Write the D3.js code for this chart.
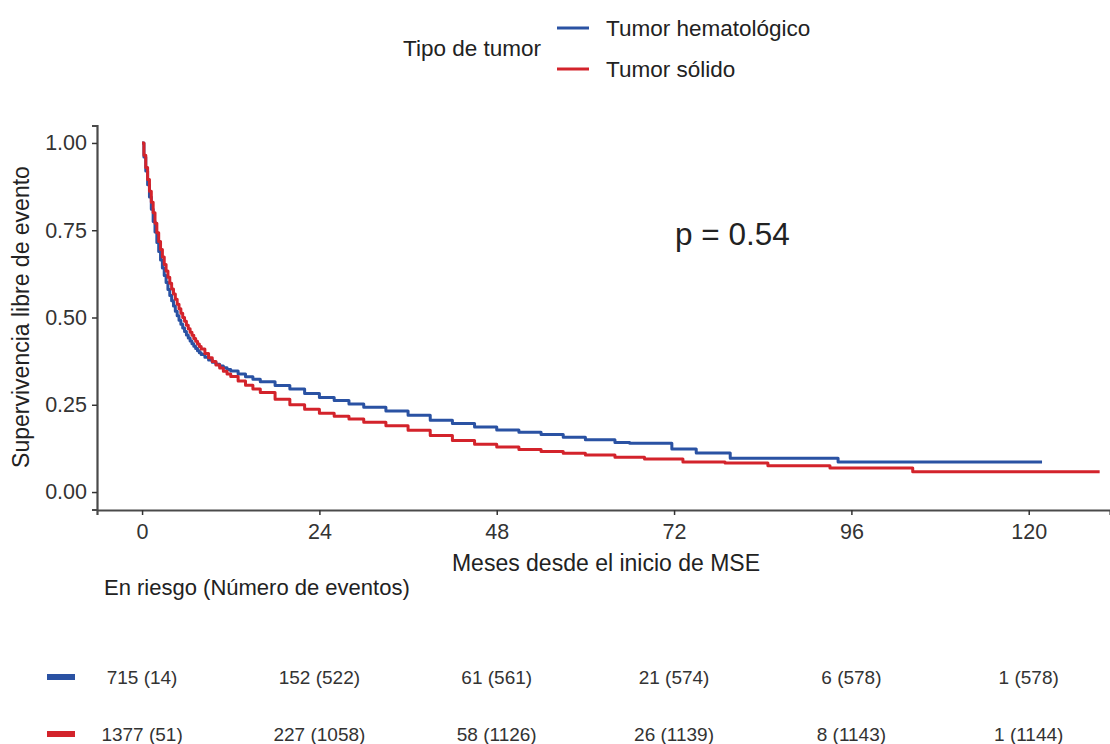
<!DOCTYPE html>
<html>
<head>
<meta charset="utf-8">
<script src="https://cdn.jsdelivr.net/npm/d3@7"></script>
<style>
  body { margin: 0; background: #fff; }
  svg { font-family: "Liberation Sans", Arial, sans-serif; display: block; }
</style>
</head>
<body>
<svg id="chart" width="1110" height="744"></svg>
<script>
// Kaplan-Meier curves (months, survival)
var hemaTimes = [0, 0.25, 0.5, 0.75, 1, 1.25, 1.5, 1.75, 2, 2.25, 2.5, 2.75, 3, 3.25, 3.5, 3.75, 4, 4.25, 4.5, 4.75, 5, 5.25, 5.5, 5.75, 6, 6.25, 6.5, 6.75, 7, 7.25, 7.5, 7.75, 8, 8.5, 9, 9.5, 10, 10.5, 11, 11.5, 12, 13, 14, 15, 16, 18, 20, 22, 24, 26, 28, 30, 33, 36, 39, 42, 45, 48, 51, 54, 57, 60, 64, 66, 71.7, 75, 79.6, 94.2, 121.8];
var hemaSurv  = [1, 0.96, 0.92, 0.88, 0.845, 0.81, 0.775, 0.745, 0.715, 0.689, 0.665, 0.642, 0.62, 0.6, 0.58, 0.563, 0.548, 0.533, 0.518, 0.505, 0.492, 0.481, 0.47, 0.46, 0.45, 0.441, 0.433, 0.425, 0.418, 0.411, 0.405, 0.399, 0.394, 0.386, 0.378, 0.372, 0.366, 0.361, 0.356, 0.351, 0.347, 0.338, 0.33, 0.323, 0.316, 0.305, 0.295, 0.282, 0.271, 0.262, 0.252, 0.243, 0.232, 0.22, 0.206, 0.196, 0.186, 0.178, 0.171, 0.165, 0.157, 0.15, 0.142, 0.14, 0.123, 0.112, 0.097, 0.086, 0.086];

var solTimes = [0, 0.25, 0.5, 0.75, 1, 1.25, 1.5, 1.75, 2, 2.25, 2.5, 2.75, 3, 3.25, 3.5, 3.75, 4, 4.25, 4.5, 4.75, 5, 5.25, 5.5, 5.75, 6, 6.25, 6.5, 6.75, 7, 7.25, 7.5, 7.75, 8, 8.5, 9, 9.5, 10, 10.5, 11, 11.5, 12, 13, 14, 15, 16, 18, 20, 22, 24, 26, 28, 30, 33, 36, 39, 42, 45, 48, 51, 54, 57, 60, 64, 68, 73.2, 78.9, 84.7, 93.1, 104.3, 129.6];
var solSurv  = [1, 0.965, 0.93, 0.895, 0.862, 0.83, 0.8, 0.77, 0.743, 0.718, 0.695, 0.673, 0.652, 0.633, 0.615, 0.598, 0.582, 0.567, 0.552, 0.538, 0.525, 0.512, 0.5, 0.489, 0.478, 0.468, 0.458, 0.449, 0.44, 0.432, 0.424, 0.417, 0.41, 0.397, 0.385, 0.374, 0.364, 0.355, 0.346, 0.338, 0.331, 0.318, 0.306, 0.295, 0.285, 0.266, 0.25, 0.237, 0.226, 0.217, 0.209, 0.2, 0.19, 0.177, 0.162, 0.148, 0.137, 0.129, 0.122, 0.116, 0.111, 0.106, 0.1, 0.095, 0.086, 0.083, 0.075, 0.069, 0.058, 0.058];

var groupNames = ["Tumor hematológico", "Tumor sólido"];
var groupColors = ["#2a52a3", "#d3232b"];

var xTicks = [0, 24, 48, 72, 96, 120];
var yTicks = [0, 0.25, 0.5, 0.75, 1];

// risk table
var riskTimes = [0, 24, 48, 72, 96, 120];
var hemaAtRisk = [715, 152, 61, 21, 6, 1];
var hemaEvents = [14, 522, 561, 574, 578, 578];
var solAtRisk  = [1377, 227, 58, 26, 8, 1];
var solEvents  = [51, 1058, 1126, 1139, 1143, 1144];

var pText = "p = 0.54";

var svg = d3.select("#chart");
svg.append("rect").attr("width", 1110).attr("height", 744).attr("fill", "#fff");

var x = d3.scaleLinear().domain([-6.1, 131]).range([97, 1110]);
var y = d3.scaleLinear().domain([-0.05, 1.05]).range([509.5, 125.5]);

// axes
var yAxis = svg.append("g")
    .attr("transform", "translate(97,0)")
    .call(d3.axisLeft(y).tickValues(yTicks).tickFormat(d3.format(".2f")).tickSize(5).tickPadding(5));
var xAxis = svg.append("g")
    .attr("transform", "translate(0,510)")
    .call(d3.axisBottom(x).tickValues(xTicks).tickSize(5).tickPadding(9));

[yAxis, xAxis].forEach(function (a) {
    a.select(".domain").attr("stroke", "#4a4a4a").attr("stroke-width", 2.2);
    a.selectAll(".tick line").attr("stroke", "#333").attr("stroke-width", 1.5);
    a.selectAll(".tick text").attr("fill", "#333").style("font-size", "21.5px")
        .style("font-family", "'Liberation Sans', Arial, sans-serif");
});

// curves
var line = d3.line()
    .x(function (d) { return x(d[0]); })
    .y(function (d) { return y(d[1]); })
    .curve(d3.curveStepAfter);

var series = [d3.zip(hemaTimes, hemaSurv), d3.zip(solTimes, solSurv)];
series.forEach(function (s, i) {
    svg.append("path")
        .datum(s)
        .attr("d", line)
        .attr("fill", "none")
        .attr("stroke", groupColors[i])
        .attr("stroke-width", 3)
        .attr("stroke-linejoin", "round");
});

// p value
svg.append("text")
    .attr("x", 675).attr("y", 245)
    .attr("fill", "#222")
    .style("font-size", "31.5px")
    .text(pText);

// axis titles
svg.append("text")
    .attr("x", 606).attr("y", 571)
    .attr("text-anchor", "middle")
    .attr("fill", "#222")
    .style("font-size", "23px")
    .text("Meses desde el inicio de MSE");

svg.append("text")
    .attr("transform", "translate(29,317) rotate(-90)")
    .attr("text-anchor", "middle")
    .attr("fill", "#222")
    .style("font-size", "23px")
    .text("Supervivencia libre de evento");

// legend
svg.append("text")
    .attr("x", 403).attr("y", 56)
    .attr("fill", "#222")
    .style("font-size", "22.5px")
    .text("Tipo de tumor");

var legendY = [28, 69];
groupNames.forEach(function (n, i) {
    svg.append("line")
        .attr("x1", 557).attr("x2", 589)
        .attr("y1", legendY[i]).attr("y2", legendY[i])
        .attr("stroke", groupColors[i]).attr("stroke-width", 3);
    svg.append("text")
        .attr("x", 606).attr("y", legendY[i] + 8)
        .attr("fill", "#222")
        .style("font-size", "22.5px")
        .text(n);
});

// risk table
svg.append("text")
    .attr("x", 104).attr("y", 595)
    .attr("fill", "#222")
    .style("font-size", "22px")
    .text("En riesgo (Número de eventos)");

var rows = [
    { atRisk: hemaAtRisk, events: hemaEvents, y: 677 },
    { atRisk: solAtRisk, events: solEvents, y: 734 }
];
rows.forEach(function (r, i) {
    svg.append("rect")
        .attr("x", 47).attr("y", r.y - 3)
        .attr("width", 28).attr("height", 6)
        .attr("fill", groupColors[i]);
    svg.selectAll(null)
        .data(riskTimes)
        .enter().append("text")
        .attr("x", function (d) { return x(d); })
        .attr("y", r.y + 7)
        .attr("text-anchor", "middle")
        .attr("fill", "#333")
        .style("font-size", "19px")
        .text(function (d, j) { return r.atRisk[j] + " (" + r.events[j] + ")"; });
});
</script>
</body>
</html>
